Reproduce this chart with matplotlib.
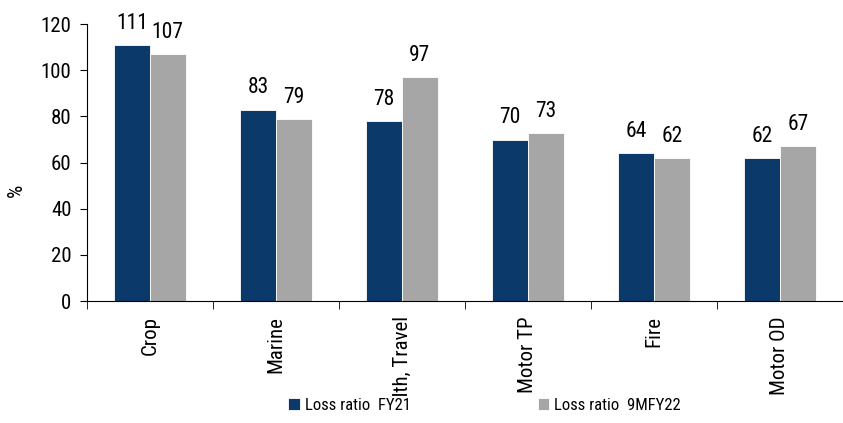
import matplotlib
matplotlib.use("Agg")
import matplotlib.pyplot as plt
import numpy as np
from matplotlib.transforms import Bbox
from matplotlib import font_manager

categories = ["Crop", "Marine", "Health, Travel", "Motor TP", "Fire", "Motor OD"]
fy21 = [111, 83, 78, 70, 64, 62]
fy22 = [107, 79, 97, 73, 62, 67]
series_names = ["Loss ratio  FY21", "Loss ratio  9MFY22"]
yticks = [0, 20, 40, 60, 80, 100, 120]

names = {f.name for f in font_manager.fontManager.ttflist}
fam = [f for f in ["Liberation Sans Narrow", "Roboto Condensed", "Liberation Sans", "DejaVu Sans"] if f in names]
plt.rcParams['font.family'] = fam

navy = "#0B3A6A"
grey = "#A6A6A6"

fig = plt.figure(figsize=(8.43, 4.23), dpi=100)
ax = fig.add_axes([0.103, 0.288, 0.897, 0.655])

x = np.arange(len(categories))
w = 0.285
b1 = ax.bar(x - w/2, fy21, w, color=navy, edgecolor="white", linewidth=0.6, label=series_names[0])
b2 = ax.bar(x + w/2, fy22, w, color=grey, edgecolor="white", linewidth=0.6, label=series_names[1])
for bars, vals in ((b1, fy21), (b2, fy22)):
    for r, v in zip(bars, vals):
        ax.annotate(f"{v}", (r.get_x() + r.get_width()/2, v), xytext=(0, 8),
                    textcoords="offset points", ha="center", va="bottom", fontsize=15.5)

ax.set_xlim(-0.5, len(categories) - 0.5)
ax.set_ylim(0, 120)
ax.set_yticks(yticks)
ax.tick_params(axis="y", labelsize=15, direction="out", length=5, pad=6)
ax.set_ylabel("%", fontsize=15)
ax.yaxis.set_label_coords(-0.08, 0.40)

ax.set_xticks(x)
ax.set_xticklabels(categories, rotation=90, fontsize=15, va="top", ha="center")
ax.tick_params(axis="x", length=0, pad=11)
ax.set_xticks(np.arange(len(categories) + 1) - 0.5, minor=True)
ax.tick_params(axis="x", which="minor", length=6, direction="out")

for s in ("top", "right"):
    ax.spines[s].set_visible(False)
for s in ("left", "bottom"):
    ax.spines[s].set_linewidth(0.8)

clip = Bbox.from_extents(0, 423 - 396, 843, 423)
for lab in ax.get_xticklabels():
    lab.set_clip_on(True)
    lab.set_clip_box(clip)

fig.legend(handles=[b1, b2], labels=series_names, loc="lower center", bbox_to_anchor=(0.575, -0.012),
           ncol=2, frameon=False, fontsize=12, columnspacing=7.6, handlelength=0.7, handleheight=0.7,
           handletextpad=0.3)

fig.savefig("out.png", dpi=100)
